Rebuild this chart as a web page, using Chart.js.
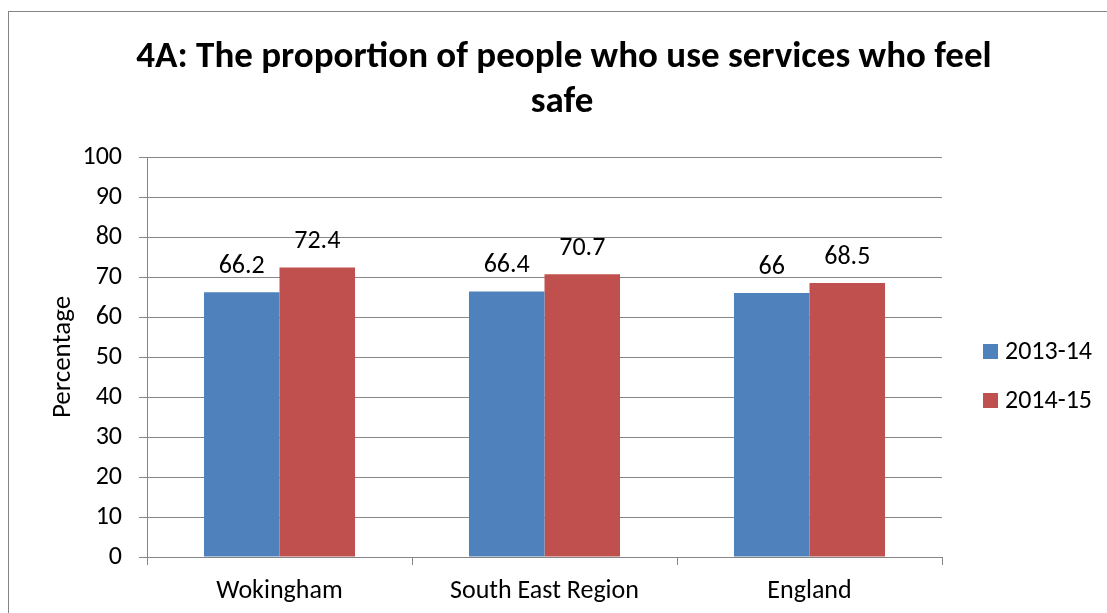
<!DOCTYPE html>
<html>
<head>
<meta charset="utf-8">
<script src="https://cdn.jsdelivr.net/npm/chart.js@4.4.0/dist/chart.umd.min.js"></script>
<style>
  body { margin: 0; background: #fff; overflow: hidden; }
  #frame { position: absolute; left: 8px; top: 11px; width: 1120px; height: 640px; border: 1px solid #858585; }
  #wrap { position: absolute; left: 0; top: 0; width: 1107px; height: 613px; }
</style>
</head>
<body>
<div id="frame"></div>
<div id="wrap"><canvas id="chart" width="1107" height="613"></canvas></div>
<script>
const FONT = "Carlito, Lato, 'Liberation Sans', sans-serif";

const titleLines = ['4A: The proportion of people who use services who feel', 'safe'];
const categories = ['Wokingham', 'South East Region', 'England'];
const seriesNames = ['2013-14', '2014-15'];
const values1314 = [66.2, 66.4, 66];
const values1415 = [72.4, 70.7, 68.5];
const seriesColors = ['#4F81BD', '#C0504D'];
const yMin = 0, yMax = 100, yStep = 10;

// title, value labels and the legend are painted by hand
const extras = {
  id: 'extras',
  afterDraw(chart) {
    const ctx = chart.ctx;
    ctx.save();
    ctx.fillStyle = '#000';

    ctx.font = 'bold 37px ' + FONT;
    ctx.textAlign = 'center';
    ctx.textBaseline = 'alphabetic';
    ctx.fillText(titleLines[0], 564, 67);
    ctx.fillText(titleLines[1], 562, 112);

    ctx.font = '26px ' + FONT;
    chart.data.datasets.forEach((ds, i) => {
      chart.getDatasetMeta(i).data.forEach((bar, j) => {
        ctx.fillText(String(ds.data[j]), bar.x, bar.y - 19);
      });
    });

    ctx.textAlign = 'left';
    ctx.textBaseline = 'middle';
    chart.data.datasets.forEach((ds, i) => {
      const y = 351 + i * 49;
      ctx.fillStyle = ds.backgroundColor;
      ctx.fillRect(983, y - 7, 15, 15);
      ctx.fillStyle = '#000';
      ctx.fillText(ds.label, 1005, y + 1);
    });
    ctx.restore();
  }
};

new Chart(document.getElementById('chart'), {
  type: 'bar',
  data: {
    labels: categories,
    datasets: [
      { label: seriesNames[0], data: values1314, backgroundColor: seriesColors[0] },
      { label: seriesNames[1], data: values1415, backgroundColor: seriesColors[1] }
    ]
  },
  options: {
    responsive: false,
    animation: false,
    devicePixelRatio: 1,
    layout: { padding: { left: 0, top: 157, right: 165, bottom: 0 } },
    datasets: { bar: { categoryPercentage: 0.57, barPercentage: 1.0 } },
    plugins: { legend: { display: false }, title: { display: false }, tooltip: { enabled: false } },
    scales: {
      x: {
        afterFit(scale) { scale.height = 56; },
        grid: { drawOnChartArea: false, drawTicks: true, tickLength: 8, color: '#868686', offset: true },
        border: { color: '#868686', width: 1 },
        ticks: { color: '#000', font: { family: FONT, size: 26 }, padding: 11 }
      },
      y: {
        min: yMin,
        max: yMax,
        afterFit(scale) { scale.width = 147; },
        grid: { color: '#868686', tickLength: 8 },
        border: { color: '#868686', width: 1 },
        ticks: { stepSize: yStep, color: '#000', font: { family: FONT, size: 26 }, padding: 17 },
        title: { display: true, text: 'Percentage', color: '#000', font: { family: FONT, size: 27 }, padding: { top: 47, bottom: 0 } }
      }
    }
  },
  plugins: [extras]
});
</script>
</body>
</html>
